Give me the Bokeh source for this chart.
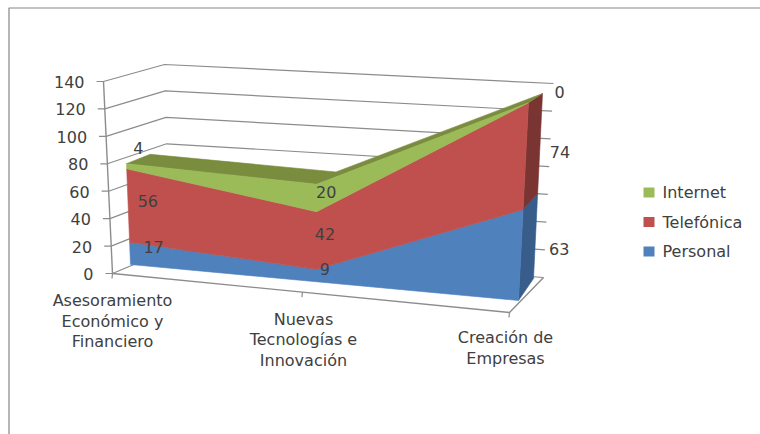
from bokeh.plotting import figure
from bokeh.models import Range1d
from bokeh.core.properties import value
from bokeh.embed import file_html
from bokeh.resources import INLINE

# ---- data ----
categories = [["Asesoramiento", "Económico y", "Financiero"],
              ["Nuevas", "Tecnologías e", "Innovación"],
              ["Creación de", "Empresas"]]
personal = [17, 9, 63]
telefonica = [56, 42, 74]
internet = [4, 20, 0]
value_ticks = [0, 20, 40, 60, 80, 100, 120, 140]
series_names = ["Internet", "Telefónica", "Personal"]

# ---- layout / projection of the 3D box (screen pixels) ----
W, H = 760, 434
VMAX = 140
PERSP = 1.09
BOX_FRONT = ((112, 273), (103, 81), (509, 312), (514, 112))
BOX_BACK = ((169, 249), (164, 64), (543, 277), (553, 83))
AREA_FRONT = ((130, 264), (122.7, 80.6), (518, 300), (528.2, 98))
AREA_BACK = ((153, 255), (147, 71), (533, 278), (542.2, 89))
GRID = "#8c8c8c"
TXT = "#404040"
FONT = value("DejaVu Sans")
FS = "16px"
C_BLUE, C_RED, C_GREEN = "#4F81BD", "#C0504D", "#9BBB59"
D_BLUE, D_RED, D_GREEN = "#385D8A", "#7A3432", "#7A8C3E"


def lerp(a, b, t):
    return (a[0] + (b[0] - a[0]) * t, a[1] + (b[1] - a[1]) * t)


def proj(plane, c, v):
    s = c / 2
    t = s / (s + (1 - s) * PERSP)
    lb, lt, rb, rt = plane
    return lerp(lerp(lb, lt, v / VMAX), lerp(rb, rt, v / VMAX), t)


def proj_mid(c, v):
    return lerp(proj(AREA_FRONT, c, v), proj(AREA_BACK, c, v), 0.5)


p = figure(width=W, height=H, x_range=Range1d(0, W), y_range=Range1d(H, 0),
           output_backend="svg", toolbar_location=None, min_border=0,
           x_axis_type="linear", y_axis_type="linear")
p.axis.visible = False
p.grid.visible = False
p.outline_line_color = None
p.background_fill_color = "white"

# outer chart frame
p.line([8.5, 8.5, W], [H, 7.5, 7.5], line_color="#868686", line_width=1.2)

# walls
for v in value_ticks:
    a, b, c = proj(BOX_FRONT, 0, v), proj(BOX_BACK, 0, v), proj(BOX_BACK, 2, v)
    p.line([a[0] - 7, a[0], b[0], c[0]], [a[1], a[1], b[1], c[1]], line_color=GRID, line_width=1.2)
    p.text([a[0] - 19], [a[1] + 0.5], text=[str(v)], text_font=FONT, text_font_size=FS,
           text_color=TXT, text_align="right", text_baseline="middle")

# axis line and floor
a, b = proj(BOX_FRONT, 0, 0), proj(BOX_FRONT, 0, VMAX)
p.line([a[0], b[0]], [a[1], b[1]], line_color=GRID, line_width=1.4)
fr, br = proj(BOX_FRONT, 2, 0), proj(BOX_BACK, 2, 0)
p.line([a[0], fr[0], br[0]], [a[1], fr[1], br[1]], line_color=GRID, line_width=1.4)
for c in range(3):
    q = proj(BOX_FRONT, c, 0)
    p.line([q[0], q[0] - 0.5], [q[1], q[1] + 5], line_color=GRID, line_width=1.2)

# stacked levels
cat = [0, 1, 2]
lvl0 = [0, 0, 0]
lvl1 = personal
lvl2 = [a_ + b_ for a_, b_ in zip(personal, telefonica)]
lvl3 = [a_ + b_ for a_, b_ in zip(lvl2, internet)]


def poly(pts, color):
    p.patch([q[0] for q in pts], [q[1] for q in pts], fill_color=color,
            line_color=color, line_width=0.6)


# right side faces
poly([proj(AREA_FRONT, 2, lvl0[2]), proj(AREA_BACK, 2, lvl0[2]),
      proj(AREA_BACK, 2, lvl1[2]), proj(AREA_FRONT, 2, lvl1[2])], D_BLUE)
poly([proj(AREA_FRONT, 2, lvl1[2]), proj(AREA_BACK, 2, lvl1[2]),
      proj(AREA_BACK, 2, lvl2[2]), proj(AREA_FRONT, 2, lvl2[2])], D_RED)

# top face
poly([proj(AREA_FRONT, c, lvl3[c]) for c in cat] +
     [proj(AREA_BACK, c, lvl3[c]) for c in reversed(cat)], D_GREEN)

# front faces
for low, high, color in [(lvl0, lvl1, C_BLUE), (lvl1, lvl2, C_RED), (lvl2, lvl3, C_GREEN)]:
    poly([proj(AREA_FRONT, c, low[c]) for c in cat] +
         [proj(AREA_FRONT, c, high[c]) for c in reversed(cat)], color)

# data labels, anchored on the layer's middle
label_offsets = {
    (0, 0): (12, -2), (0, 1): (8, 0), (0, 2): (0, -14),
    (1, 0): (-1, 1), (1, 1): (-1, 0), (1, 2): (0, 0),
    (2, 0): (31, 3), (2, 1): (27, 2), (2, 2): (24, -6),
}
for s, (low, high, vals) in enumerate([(lvl0, lvl1, personal), (lvl1, lvl2, telefonica), (lvl2, lvl3, internet)]):
    for c in cat:
        q = proj_mid(c, (low[c] + high[c]) / 2)
        dx, dy = label_offsets[(c, s)]
        p.text([q[0] + dx], [q[1] + dy], text=[str(vals[c])], text_font=FONT, text_font_size=FS,
               text_color=TXT, text_align="center", text_baseline="middle")

# category labels
for c, lines in enumerate(categories):
    q = proj(BOX_FRONT, c, 0)
    for i, line in enumerate(lines):
        p.text([q[0] + [0, 1, -4][c]], [q[1] + [27, 27, 25][c] + 20.5 * i], text=[line], text_font=FONT,
               text_font_size=FS, text_color=TXT, text_align="center", text_baseline="middle")

# legend
for i, (name, color) in enumerate(zip(series_names, [C_GREEN, C_RED, C_BLUE])):
    yy = 192 + 29.5 * i
    p.rect([648.5], [yy], width=11, height=10, fill_color=color, line_color=None)
    p.text([662], [yy], text=[name], text_font=FONT, text_font_size=FS, text_color=TXT,
           text_align="left", text_baseline="middle")

open("out.html", "w").write(file_html(p, INLINE))
